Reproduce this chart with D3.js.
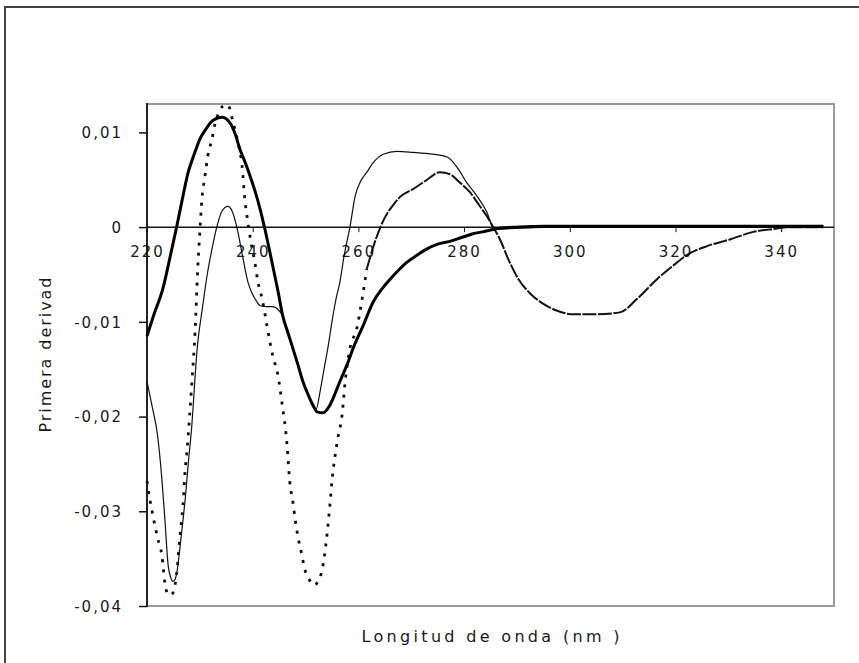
<!DOCTYPE html>
<html>
<head>
<meta charset="utf-8">
<script src="https://cdn.jsdelivr.net/npm/d3@7"></script>
<style>
  html, body { margin: 0; padding: 0; background: #fff; }
  svg { display: block; }
  text { font-family: "DejaVu Sans", Verdana, sans-serif; fill: #1a1a1a; }
</style>
</head>
<body>
<svg id="chart" width="859" height="663"></svg>
<script>
// ---------- data ----------
const xTickValues = [220, 240, 260, 280, 300, 320, 340];
const yTickValues = [0.01, 0, -0.01, -0.02, -0.03, -0.04];
const yTickLabels = ["0,01", "0", "-0,01", "-0,02", "-0,03", "-0,04"];
const xTitle = "Longitud de onda (nm )";
const yTitle = "Primera derivad";

// thick solid series
const wlThick = [220, 221.2, 223, 224.7, 225.6, 226.7, 227.8, 229, 230, 231.2, 232.3, 233.3, 234.2, 235.7, 236.7, 237.6, 238.6, 239.5, 240.5, 241.4, 242.3, 243.8, 244.8, 245.7, 246.7, 247.6, 248.6, 249.5, 250.5, 251.4, 252.2, 253.3, 254.6, 255.5, 256.5, 257.8, 259, 260.9, 262.8, 264.5, 266, 267.5, 269.2, 271, 273, 275, 277.3, 279.5, 281.7, 283.5, 285, 287, 290, 295, 300, 305, 310, 315, 320, 325, 330, 335, 340, 345, 348];
const valThick = [-0.0115, -0.0094, -0.0065, -0.0023, 0.0000, 0.0030, 0.0058, 0.0078, 0.0093, 0.0104, 0.0112, 0.0115, 0.0116, 0.0110, 0.0098, 0.0082, 0.0068, 0.0054, 0.0037, 0.0019, -0.0002, -0.0041, -0.0068, -0.0094, -0.0112, -0.0128, -0.0146, -0.0163, -0.0177, -0.0188, -0.0195, -0.0196, -0.0188, -0.0177, -0.0163, -0.0146, -0.0128, -0.0104, -0.0079, -0.0065, -0.0055, -0.0046, -0.0037, -0.0030, -0.0023, -0.0018, -0.0015, -0.0011, -0.0007, -0.0005, -0.0003, -0.0001, 0.0000, 0.0001, 0.0001, 0.0001, 0.0001, 0.0001, 0.0001, 0.0001, 0.0001, 0.0001, 0.0001, 0.0001, 0.0001];

// thin solid series
const wlThin = [220, 221, 222, 222.8, 223.4, 224, 224.5, 224.9, 225.3, 225.7, 226.2, 226.8, 227.3, 227.8, 228.4, 229.5, 230.5, 231.4, 232.3, 233.2, 234.2, 235.3, 236.1, 237, 238.2, 239.1, 239.9, 240.7, 241.4, 242.6, 243.8, 244.8, 245.7, 246.7, 247.6, 248.6, 249.5, 250.5, 251.4, 252, 252.8, 253.5, 254.3, 255, 255.8, 256.5, 257.3, 258.4, 259.4, 260.3, 261.6, 262.8, 264.7, 267.3, 270.3, 274.1, 276.8, 278.7, 280.5, 282.4, 284.3, 285.5, 287, 290, 300, 310, 320, 330, 340, 348];
const valThin = [-0.0163, -0.0190, -0.0220, -0.0265, -0.0310, -0.0357, -0.0370, -0.0374, -0.0372, -0.0363, -0.0340, -0.0310, -0.0283, -0.0250, -0.0215, -0.0128, -0.0085, -0.0050, -0.0023, 0.0000, 0.0017, 0.0022, 0.0017, 0.0000, -0.0034, -0.0058, -0.0070, -0.0078, -0.0083, -0.0084, -0.0084, -0.0087, -0.0094, -0.0112, -0.0128, -0.0146, -0.0163, -0.0177, -0.0188, -0.0192, -0.0172, -0.0150, -0.0125, -0.0100, -0.0075, -0.0058, -0.0030, 0.0000, 0.0033, 0.0047, 0.0058, 0.0068, 0.0077, 0.0080, 0.0079, 0.0077, 0.0074, 0.0063, 0.0047, 0.0033, 0.0016, 0.0000, -0.0002, -0.0001, 0, 0, 0, 0, 0, 0];

// dotted series
const wlDot = [220, 220.5, 221.1, 222, 222.8, 223.4, 224, 224.6, 225.3, 225.8, 226.2, 226.8, 227.2, 227.6, 228.5, 229.1, 229.6, 230, 230.4, 231, 231.5, 232.3, 232.9, 233.5, 234.2, 235.3, 236.3, 237.2, 238, 238.5, 239.1, 239.8, 240.4, 241, 241.8, 242.7, 243.8, 244.8, 245.5, 246.5, 247, 247.6, 248, 248.6, 249.3, 249.8, 250.5, 251.2, 251.8, 252.4, 253.1, 254, 254.6, 255, 255.6, 256.1, 256.9, 257.5, 258.4, 259.7, 260.7, 261.6, 263.1, 265, 266.4, 267.9, 270.3, 273, 275.4, 277.3, 279.2, 281.1, 283, 284.5, 285.5, 286.8, 288.3, 290.3, 292.5, 295, 297.5, 300.6, 305, 309.5, 312.7, 316.5, 319.5, 322, 326, 330.3, 334.7, 338.5, 341.7, 345, 348];
const valDot = [-0.0268, -0.0286, -0.0304, -0.0328, -0.0346, -0.0376, -0.0388, -0.0388, -0.0378, -0.0355, -0.0328, -0.0294, -0.0258, -0.0234, -0.0163, -0.0110, -0.0044, -0.0005, 0.0030, 0.0055, 0.0075, 0.0093, 0.0110, 0.0120, 0.0127, 0.0129, 0.0110, 0.0090, 0.0064, 0.0030, 0.0005, -0.0020, -0.0037, -0.0058, -0.0076, -0.0104, -0.0136, -0.0157, -0.0184, -0.0230, -0.0268, -0.0290, -0.0307, -0.0328, -0.0346, -0.0360, -0.0370, -0.0376, -0.0378, -0.0373, -0.0363, -0.0328, -0.0294, -0.0268, -0.0241, -0.0223, -0.0199, -0.0163, -0.0128, -0.0107, -0.0076, -0.0044, -0.0016, 0.0010, 0.0022, 0.0032, 0.0040, 0.0050, 0.0058, 0.0056, 0.0047, 0.0037, 0.0022, 0.0010, 0.0000, -0.0013, -0.0033, -0.0055, -0.0070, -0.0081, -0.0088, -0.0092, -0.0092, -0.0090, -0.0076, -0.0055, -0.0041, -0.0030, -0.0020, -0.0013, -0.0005, -0.0002, 0.0000, 0.0000, 0.0000];

// ---------- layout ----------
const svg = d3.select("#chart");
const plot = { left: 147, top: 104, right: 834, bottom: 606 };

const x = d3.scaleLinear().domain([220, 350]).range([plot.left, plot.right]);
const y = d3.scaleLinear().domain([-0.04, 0.013]).range([plot.bottom, plot.top]);

// outer frame (extends beyond the visible window)
svg.append("rect")
  .attr("x", 5).attr("y", 7).attr("width", 900).attr("height", 700)
  .attr("fill", "none").attr("stroke", "#444").attr("stroke-width", 2);

// plot area border (gray)
svg.append("rect")
  .attr("x", plot.left).attr("y", plot.top)
  .attr("width", plot.right - plot.left).attr("height", plot.bottom - plot.top)
  .attr("fill", "none").attr("stroke", "#9a9a9a").attr("stroke-width", 2);

// y axis
const yAxis = d3.axisLeft(y)
  .tickValues(yTickValues)
  .tickFormat((d, i) => yTickLabels[i])
  .tickSize(8).tickPadding(16);
const gy = svg.append("g").attr("transform", `translate(${plot.left},0)`).call(yAxis);
gy.select(".domain").remove();
gy.selectAll(".tick line").attr("stroke", "#111").attr("stroke-width", 1.5);
gy.selectAll(".tick text")
  .attr("font-size", 15).attr("letter-spacing", "2px")
  .attr("font-family", "DejaVu Sans, Verdana, sans-serif")
  .attr("fill", "#1a1a1a")
  .attr("dy", "0.36em");
svg.append("line")
  .attr("x1", plot.left).attr("x2", plot.left)
  .attr("y1", plot.top - 1).attr("y2", plot.bottom + 1)
  .attr("stroke", "#222").attr("stroke-width", 2);

// x axis on the zero line
const xAxis = d3.axisBottom(x)
  .tickValues(xTickValues)
  .tickFormat(d3.format("d"))
  .tickSize(5).tickPadding(14);
const gx = svg.append("g").attr("transform", `translate(0,${y(0)})`).call(xAxis);
gx.select(".domain").remove();
gx.selectAll(".tick line").attr("stroke", "#111").attr("stroke-width", 1);
gx.selectAll(".tick text")
  .attr("font-size", 15).attr("letter-spacing", "2px")
  .attr("font-family", "DejaVu Sans, Verdana, sans-serif")
  .attr("fill", "#1a1a1a");
svg.append("line")
  .attr("x1", plot.left).attr("x2", plot.right)
  .attr("y1", y(0)).attr("y2", y(0))
  .attr("stroke", "#111").attr("stroke-width", 1.5);

// series
const line = d3.line()
  .x(d => x(d[0]))
  .y(d => y(d[1]))
  .curve(d3.curveMonotoneX);

const thick = wlThick.map((w, i) => [w, valThick[i]]);
const thin = wlThin.map((w, i) => [w, valThin[i]]);
const dot = wlDot.map((w, i) => [w, valDot[i]]);

svg.append("path").datum(thin)
  .attr("d", line).attr("fill", "none")
  .attr("stroke", "#111").attr("stroke-width", 1.2);

svg.append("path").datum(dot.filter(d => d[0] <= 262))
  .attr("d", line).attr("fill", "none")
  .attr("stroke", "#111").attr("stroke-width", 2.8)
  .attr("stroke-dasharray", "3,7");
svg.append("path").datum(dot.filter(d => d[0] >= 261.6))
  .attr("d", line).attr("fill", "none")
  .attr("stroke", "#111").attr("stroke-width", 2)
  .attr("stroke-dasharray", "14,1.5");

svg.append("path").datum(thick)
  .attr("d", line).attr("fill", "none")
  .attr("stroke", "#000").attr("stroke-width", 3)
  .attr("stroke-linejoin", "round");

// axis titles
svg.append("text")
  .attr("x", (plot.left + plot.right) / 2).attr("y", 642)
  .attr("text-anchor", "middle")
  .attr("font-size", 16)
  .attr("textLength", 258).attr("lengthAdjust", "spacing")
  .text(xTitle);

svg.append("text")
  .attr("transform", `translate(51,${(plot.top + plot.bottom) / 2}) rotate(-90)`)
  .attr("text-anchor", "middle")
  .attr("font-size", 16)
  .attr("textLength", 155).attr("lengthAdjust", "spacing")
  .text(yTitle);
</script>
</body>
</html>
